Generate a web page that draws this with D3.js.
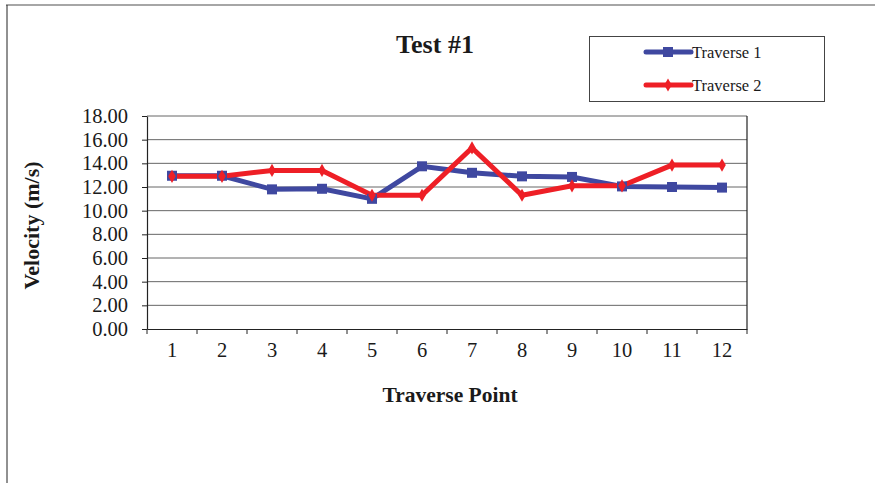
<!DOCTYPE html>
<html>
<head>
<meta charset="utf-8">
<script src="https://cdn.jsdelivr.net/npm/d3@7"></script>
<style>
  body { margin: 0; background: #fff; }
  svg { display: block; font-family: "Liberation Serif", "Times New Roman", serif; }
</style>
</head>
<body>
<div id="chart"></div>
<script>
// chart data
var points = [1, 2, 3, 4, 5, 6, 7, 8, 9, 10, 11, 12];
var traverse1 = [12.95, 12.95, 11.8, 11.85, 11.0, 13.75, 13.2, 12.9, 12.85, 12.05, 12.0, 11.95];
var traverse2 = [12.9, 12.9, 13.4, 13.4, 11.3, 11.3, 15.3, 11.3, 12.1, 12.1, 13.85, 13.85];
var yTicks = [0, 2, 4, 6, 8, 10, 12, 14, 16, 18];
var seriesNames = ["Traverse 1", "Traverse 2"];

var W = 875, H = 483;
var svg = d3.select("#chart").append("svg")
    .attr("width", W)
    .attr("height", H);

// outer frame (only top + left show)
svg.append("line").attr("x1", 6).attr("y1", 5).attr("x2", W).attr("y2", 5)
    .attr("stroke", "#888").attr("stroke-width", 1.5);
svg.append("line").attr("x1", 7).attr("y1", 5).attr("x2", 7).attr("y2", H)
    .attr("stroke", "#222").attr("stroke-width", 1);

var plotL = 147, plotR = 747, plotT = 116, plotB = 329;

var x = d3.scaleBand().domain(points).range([plotL, plotR]);
var y = d3.scaleLinear().domain([0, 18]).range([plotB, plotT]);

// gridlines
svg.append("g").selectAll("line").data(yTicks.slice(1))
  .enter().append("line")
    .attr("x1", plotL).attr("x2", plotR)
    .attr("y1", function(d){return y(d);})
    .attr("y2", function(d){return y(d);})
    .attr("stroke", "#666")
    .attr("stroke-width", 1);

// right border of plot
svg.append("line").attr("x1", plotR).attr("x2", plotR).attr("y1", plotT).attr("y2", plotB)
    .attr("stroke", "#222").attr("stroke-width", 1.2);

// y axis
var yAxis = svg.append("g")
    .attr("transform", "translate(" + plotL + ",0)")
    .call(d3.axisLeft(y).tickValues(yTicks).tickFormat(d3.format(".2f")).tickSize(5).tickSizeOuter(0).tickPadding(14));
yAxis.select(".domain").attr("stroke", "#222").attr("stroke-width", 1.2);
yAxis.selectAll(".tick line").attr("stroke", "#222");
yAxis.selectAll("text").attr("font-size", "20.5px").attr("fill", "#1a1a1a")
    .attr("font-family", "Liberation Serif, Times New Roman, serif");

// x axis: labels at band centers, ticks at band edges
var xAxis = svg.append("g")
    .attr("transform", "translate(0," + plotB + ")")
    .call(d3.axisBottom(x).tickSize(0).tickSizeOuter(0).tickPadding(13));
xAxis.select(".domain").attr("stroke", "#222").attr("stroke-width", 1.2);
xAxis.selectAll("text").attr("font-size", "20.5px").attr("fill", "#1a1a1a")
    .attr("font-family", "Liberation Serif, Times New Roman, serif");

var edges = points.map(function(d){return x(d);}).concat([plotR]);
svg.append("g").selectAll("line").data(edges)
  .enter().append("line")
    .attr("x1", function(d){return d;})
    .attr("x2", function(d){return d;})
    .attr("y1", plotB)
    .attr("y2", plotB + 5)
    .attr("stroke", "#222");

// series
var colors = ["#3f48a0", "#ee1f26"];
var line = d3.line()
    .x(function(d, i){return x(points[i]) + x.bandwidth() / 2;})
    .y(function(d){return y(d);});

var allSeries = [traverse1, traverse2];
allSeries.forEach(function(s, k){
  svg.append("path")
      .datum(s)
      .attr("d", line)
      .attr("fill", "none")
      .attr("stroke", colors[k])
      .attr("stroke-width", 5)
      .attr("stroke-linejoin", "miter");
});

// markers
svg.append("g").selectAll("rect").data(traverse1)
  .enter().append("rect")
    .attr("x", function(d, i){return x(points[i]) + x.bandwidth() / 2 - 5;})
    .attr("y", function(d){return y(d) - 5;})
    .attr("width", 10).attr("height", 10)
    .attr("fill", colors[0]);

svg.append("g").selectAll("path").data(traverse2)
  .enter().append("path")
    .attr("d", d3.symbol().type(d3.symbolDiamond).size(50))
    .attr("transform", function(d, i){
      return "translate(" + (x(points[i]) + x.bandwidth() / 2) + "," + y(d) + ")";
    })
    .attr("fill", colors[1]);

// title
svg.append("text")
    .attr("x", 435).attr("y", 53)
    .attr("text-anchor", "middle")
    .attr("font-weight", "bold")
    .attr("font-size", "26px")
    .attr("fill", "#1a1a1a")
    .text("Test #1");

// axis titles
svg.append("text")
    .attr("x", (plotL + plotR) / 2 + 3).attr("y", 402)
    .attr("text-anchor", "middle")
    .attr("font-weight", "bold")
    .attr("font-size", "21.5px")
    .attr("fill", "#1a1a1a")
    .text("Traverse Point");

svg.append("text")
    .attr("transform", "translate(31," + ((plotT + plotB) / 2 + 3) + ") rotate(-90)")
    .attr("text-anchor", "middle")
    .attr("dy", "0.35em")
    .attr("font-weight", "bold")
    .attr("font-size", "22px")
    .attr("fill", "#1a1a1a")
    .text("Velocity (m/s)");

// legend
var legend = svg.append("g");
legend.append("rect")
    .attr("x", 589.5).attr("y", 36.5)
    .attr("width", 235).attr("height", 65)
    .attr("fill", "#fff")
    .attr("stroke", "#444")
    .attr("stroke-width", 1);

var legendY = [52, 85];
seriesNames.forEach(function(name, k){
  legend.append("line")
      .attr("x1", 646).attr("x2", 691)
      .attr("y1", legendY[k]).attr("y2", legendY[k])
      .attr("stroke", colors[k])
      .attr("stroke-width", 5)
      .attr("stroke-linecap", "round");
  if (k === 0) {
    legend.append("rect")
        .attr("x", 663).attr("y", legendY[k] - 5)
        .attr("width", 10).attr("height", 10)
        .attr("fill", colors[k]);
  } else {
    legend.append("path")
        .attr("d", d3.symbol().type(d3.symbolDiamond).size(50))
        .attr("transform", "translate(668," + legendY[k] + ")")
        .attr("fill", colors[k]);
  }
  legend.append("text")
      .attr("x", 692).attr("y", legendY[k])
      .attr("dy", "0.35em")
      .attr("font-size", "16.5px")
      .attr("fill", "#1a1a1a")
      .text(name);
});
</script>
</body>
</html>
